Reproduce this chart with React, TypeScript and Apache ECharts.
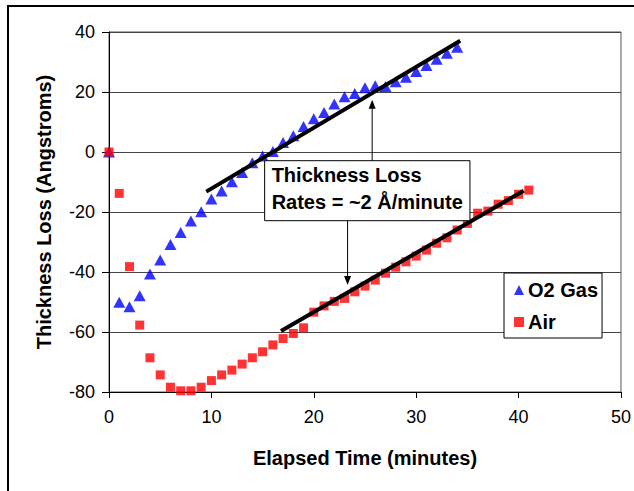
import React, { useEffect, useRef } from 'react';
import * as echarts from 'echarts';

// ---- data ----
const o2Minutes = [0, 1, 2, 3, 4, 5, 6, 7, 8, 9, 10, 11, 12, 13, 14, 15, 16, 17, 18, 19, 20, 21, 22, 23, 24, 25, 26, 27, 28, 29, 30, 31, 32, 33, 34];
const o2Loss = [0, -50.1, -51.6, -47.9, -40.7, -36, -30.8, -26.8, -23, -19.9, -15.7, -13, -9.9, -6.8, -3.6, -1.3, 0.2, 3.2, 5.4, 8.5, 11.1, 13.2, 16, 18.4, 19.5, 21.4, 22.1, 21.8, 23.4, 24.9, 26.8, 28.8, 30.9, 32.9, 34.9];

const airMinutes = [0, 1, 2, 3, 4, 5, 6, 7, 8, 9, 10, 11, 12, 13, 14, 15, 16, 17, 18, 19, 20, 21, 22, 23, 24, 25, 26, 27, 28, 29, 30, 31, 32, 33, 34, 35, 36, 37, 38, 39, 40, 41];
const airLoss = [0, -13.8, -38.2, -57.7, -68.6, -74.3, -78.4, -79.6, -79.6, -78.4, -76.2, -74.3, -72.7, -70.7, -68.6, -66.6, -64.3, -62.2, -60.5, -58.6, -53.4, -51.3, -49.8, -48.8, -46.6, -44.7, -42.7, -40.4, -38.4, -36.6, -34.7, -32.7, -30.4, -28.6, -26, -23.8, -20.4, -19.7, -17.4, -16.2, -14.1, -12.7];

const o2TrendMinutes = [9.5, 34.3];
const o2TrendLoss = [-13.2, 37.1];
const airTrendMinutes = [16.8, 40.5];
const airTrendLoss = [-59.7, -12.9];

const xRange = [0, 50];
const xStep = 10;
const yRange = [-80, 40];
const yStep = 20;

const seriesNames = ['O2 Gas', 'Air'];
const annotationLines = ['Thickness Loss', 'Rates = ~2 Å/minute'];
// annotation anchors in data units: box corners, arrows (x, fromY, toY)
const annoBox = { left: 15.2, right: 35.25, top: -2.9, bottom: -22.9 };
const upArrow = { x: 25.7, from: -2.9, to: 17.4 };
const downArrow = { x: 23.3, from: -22.9, to: -44.3 };

const FONT = "'Liberation Sans', Arial, sans-serif";

export default function App() {
  const ref = useRef<HTMLDivElement>(null);

  useEffect(() => {
    if (!ref.current) return;
    document.body.style.margin = '0';
    const chart = echarts.init(ref.current, undefined, { renderer: 'svg' });
    const zip = (xs: number[], ys: number[]) => xs.map((x, i) => [x, ys[i]]);

    chart.setOption({
      animation: false,
      backgroundColor: '#ffffff',
      grid: {
        left: 109,
        top: 32,
        width: 516,
        height: 360,
        show: true,
        borderColor: '#555',
        borderWidth: 1,
        backgroundColor: 'transparent',
      },
      xAxis: {
        type: 'value',
        min: xRange[0],
        max: xRange[1],
        interval: xStep,
        name: 'Elapsed Time (minutes)',
        nameLocation: 'middle',
        nameGap: 56,
        nameTextStyle: { fontFamily: FONT, fontSize: 20, fontWeight: 'bold', color: '#000' },
        axisLine: { onZero: false, lineStyle: { color: '#000', width: 1 } },
        axisTick: { show: true, inside: false, length: 6, lineStyle: { color: '#000' } },
        axisLabel: { fontFamily: FONT, fontSize: 18, color: '#000', margin: 16 },
        splitLine: { show: false },
      },
      yAxis: {
        type: 'value',
        min: yRange[0],
        max: yRange[1],
        interval: yStep,
        name: 'Thickness Loss (Angstroms)',
        nameLocation: 'middle',
        nameRotate: 90,
        nameGap: 55,
        nameTextStyle: { fontFamily: FONT, fontSize: 20, fontWeight: 'bold', color: '#000' },
        axisLine: { onZero: false, lineStyle: { color: '#000', width: 1 } },
        axisTick: { show: true, inside: false, length: 7, lineStyle: { color: '#000' } },
        axisLabel: { fontFamily: FONT, fontSize: 18, color: '#000', margin: 14 },
        splitLine: { show: true, lineStyle: { color: '#444', width: 1 } },
      },
      legend: {
        data: seriesNames,
        orient: 'vertical',
        left: 504,
        top: 273,
        padding: [7, 4, 6, 10],
        itemGap: 12,
        itemWidth: 10,
        itemHeight: 10,
        borderColor: '#000',
        borderWidth: 1,
        backgroundColor: '#fff',
        textStyle: { fontFamily: FONT, fontSize: 20, fontWeight: 'bold', color: '#000', padding: [0, 0, 0, -1] },
      },
      series: [
        {
          name: seriesNames[0],
          type: 'scatter',
          symbol: 'triangle',
          symbolSize: [12, 11],
          itemStyle: { color: '#0000ff' },
          data: zip(o2Minutes, o2Loss),
          z: 2,
        },
        {
          name: seriesNames[1],
          type: 'scatter',
          symbol: 'rect',
          symbolSize: 9,
          itemStyle: { color: '#ff0000' },
          data: zip(airMinutes, airLoss),
          z: 3,
        },
        {
          name: 'O2 trend',
          type: 'line',
          showSymbol: false,
          symbol: 'none',
          lineStyle: { color: '#000', width: 4 },
          data: zip(o2TrendMinutes, o2TrendLoss),
          z: 4,
        },
        {
          name: 'Air trend',
          type: 'line',
          showSymbol: false,
          symbol: 'none',
          lineStyle: { color: '#000', width: 4 },
          data: zip(airTrendMinutes, airTrendLoss),
          z: 4,
        },
      ],
    });

    const px = (x: number, y: number) => chart.convertToPixel({ gridIndex: 0 }, [x, y]) as number[];
    const bTL = px(annoBox.left, annoBox.top);
    const bBR = px(annoBox.right, annoBox.bottom);
    const uFrom = px(upArrow.x, upArrow.from);
    const uTo = px(upArrow.x, upArrow.to);
    const dFrom = px(downArrow.x, downArrow.from);
    const dTo = px(downArrow.x, downArrow.to);
    const headL = 9;
    const headW = 3.5;

    chart.setOption({
      graphic: [
        {
          type: 'rect',
          silent: true,
          shape: { x: 8, y: 6, width: 700, height: 600 },
          style: { fill: 'none', stroke: '#000', lineWidth: 2 },
          z: 100,
        },
        {
          type: 'line',
          silent: true,
          shape: { x1: uFrom[0], y1: uFrom[1], x2: uTo[0], y2: uTo[1] + headL - 1 },
          style: { stroke: '#000', lineWidth: 1 },
          z: 100,
        },
        {
          type: 'polygon',
          silent: true,
          shape: { points: [[uTo[0], uTo[1]], [uTo[0] - headW, uTo[1] + headL], [uTo[0] + headW, uTo[1] + headL]] },
          style: { fill: '#000' },
          z: 100,
        },
        {
          type: 'line',
          silent: true,
          shape: { x1: dFrom[0], y1: dFrom[1], x2: dTo[0], y2: dTo[1] - headL + 1 },
          style: { stroke: '#000', lineWidth: 1 },
          z: 100,
        },
        {
          type: 'polygon',
          silent: true,
          shape: { points: [[dTo[0], dTo[1]], [dTo[0] - headW, dTo[1] - headL], [dTo[0] + headW, dTo[1] - headL]] },
          style: { fill: '#000' },
          z: 100,
        },
        {
          type: 'rect',
          silent: true,
          shape: { x: bTL[0], y: bTL[1], width: bBR[0] - bTL[0], height: bBR[1] - bTL[1] },
          style: { fill: '#fff', stroke: '#000', lineWidth: 1 },
          z: 101,
        },
        ...annotationLines.map((t, i) => ({
          type: 'text',
          silent: true,
          x: bTL[0] + 7,
          y: bTL[1] + 14.5 + i * 26.5,
          style: {
            text: t,
            fontFamily: FONT,
            fontSize: 20,
            fontWeight: 'bold',
            fill: '#000',
            align: 'left',
            verticalAlign: 'middle',
          },
          z: 102,
        })),
      ],
    });

    return () => chart.dispose();
  }, []);

  return <div ref={ref} style={{ position: 'absolute', left: 0, top: 0, width: 634, height: 491 }} />;
}
